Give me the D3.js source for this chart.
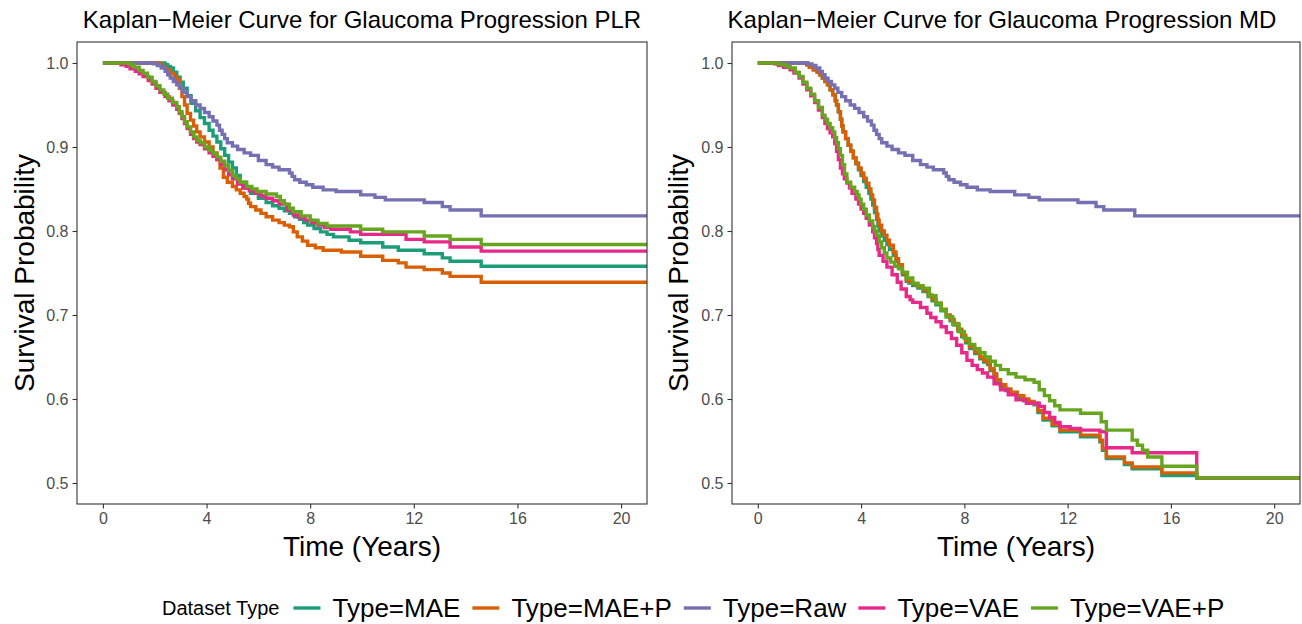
<!DOCTYPE html>
<html>
<head>
<meta charset="utf-8">
<script src="https://cdn.jsdelivr.net/npm/d3@7"></script>
<style>
  html, body { margin: 0; padding: 0; background: #fff; }
  svg { display: block; font-family: "Liberation Sans", Arial, Helvetica, sans-serif; }
</style>
</head>
<body>
<svg id="chart" width="1302" height="624"></svg>
<script>
// ---------------- DATA ----------------
const seriesNames = ["Type=MAE", "Type=MAE+P", "Type=Raw", "Type=VAE", "Type=VAE+P"];
const seriesColors = ["#1B9E77", "#D95F02", "#7570B3", "#E7298A", "#66A61E"];
const panelTitles = ["Kaplan\u2212Meier Curve for Glaucoma Progression PLR",
                     "Kaplan\u2212Meier Curve for Glaucoma Progression MD"];
const xTicks = [0, 4, 8, 12, 16, 20];
const yTicks = [0.5, 0.6, 0.7, 0.8, 0.9, 1.0];
const xLabel = "Time (Years)";
const yLabel = "Survival Probability";
const legendTitle = "Dataset Type";

// Raw curve (same in both panels): [time, survival]
const rawCurve = [[0,1],[1.8,1],[1.95,0.999],[2.1,0.997],[2.25,0.994],[2.4,0.99],[2.5,0.986],[2.6,0.982],
  [2.72,0.978],[2.85,0.974],[2.98,0.97],[3.1,0.965],[3.25,0.96],[3.4,0.955],[3.58,0.95],[3.75,0.946],
  [3.92,0.941],[4.1,0.936],[4.25,0.931],[4.4,0.926],[4.5,0.92],[4.6,0.915],[4.7,0.91],[4.8,0.905],
  [5.0,0.901],[5.2,0.897],[5.45,0.893],[5.7,0.89],[6.0,0.884],[6.3,0.879],[6.55,0.876],[6.8,0.873],
  [7.2,0.869],[7.3,0.865],[7.4,0.861],[7.6,0.858],[7.85,0.855],[8.1,0.852],[8.5,0.849],[9.0,0.847],
  [9.95,0.843],[10.5,0.84],[10.9,0.837],[12.4,0.834],[13.1,0.829],[13.4,0.825],[14.6,0.818],[22,0.818]];

// PLR panel
const plrMAE = [[0,1],[2.1,1],[2.4,0.998],[2.5,0.996],[2.6,0.994],[2.72,0.989],[2.85,0.983],[2.98,0.977],
  [3.1,0.97],[3.25,0.961],[3.4,0.952],[3.58,0.943],[3.75,0.935],[3.92,0.928],[4.1,0.92],[4.25,0.913],
  [4.4,0.906],[4.55,0.898],[4.7,0.89],[4.85,0.882],[5.0,0.875],[5.15,0.866],[5.3,0.858],[5.5,0.851],
  [5.7,0.845],[6.0,0.839],[6.3,0.834],[6.55,0.83],[6.8,0.827],[7.0,0.824],[7.2,0.821],[7.4,0.817],
  [7.6,0.814],[7.75,0.81],[7.9,0.807],[8.15,0.803],[8.4,0.799],[8.65,0.796],[8.9,0.793],[9.5,0.789],
  [9.95,0.786],[10.8,0.781],[11.4,0.777],[12.4,0.773],[13.1,0.768],[13.4,0.764],[14.6,0.758],[22,0.758]];
const plrMAEP = [[0,1],[2.1,1],[2.2,0.998],[2.3,0.995],[2.45,0.992],[2.6,0.988],[2.75,0.984],[2.85,0.98],
  [2.95,0.97],[3.05,0.96],[3.15,0.95],[3.25,0.94],[3.38,0.932],[3.5,0.925],[3.62,0.918],[3.75,0.912],
  [3.92,0.906],[4.1,0.9],[4.25,0.893],[4.4,0.885],[4.52,0.875],[4.65,0.864],[4.8,0.858],[5.0,0.853],
  [5.15,0.849],[5.3,0.845],[5.45,0.841],[5.55,0.838],[5.62,0.833],[5.7,0.829],[5.9,0.825],[6.1,0.821],
  [6.3,0.817],[6.55,0.813],[6.8,0.81],[7.0,0.807],[7.2,0.805],[7.35,0.799],[7.5,0.793],[7.7,0.788],
  [7.9,0.783],[8.2,0.78],[8.5,0.777],[9.2,0.775],[9.95,0.77],[10.8,0.765],[11.4,0.762],[11.7,0.757],
  [12.4,0.754],[13.1,0.75],[13.4,0.746],[14.6,0.739],[22,0.739]];
const plrVAE = [[0,1],[0.55,1],[0.7,0.998],[0.9,0.996],[1.05,0.993],[1.25,0.99],[1.4,0.987],[1.55,0.984],
  [1.75,0.979],[1.9,0.975],[2.05,0.97],[2.2,0.965],[2.4,0.96],[2.55,0.955],[2.7,0.95],[2.85,0.945],
  [2.95,0.94],[3.05,0.934],[3.15,0.928],[3.25,0.922],[3.38,0.915],[3.5,0.91],[3.62,0.906],[3.75,0.903],
  [3.92,0.898],[4.1,0.893],[4.25,0.889],[4.4,0.885],[4.55,0.879],[4.7,0.873],[4.85,0.867],[5.0,0.862],
  [5.2,0.856],[5.4,0.851],[5.65,0.848],[5.9,0.845],[6.1,0.842],[6.3,0.839],[6.55,0.836],[6.8,0.832],
  [7.1,0.825],[7.35,0.819],[7.55,0.816],[7.8,0.813],[8.05,0.81],[8.3,0.807],[8.55,0.804],[8.8,0.802],
  [9.55,0.799],[9.95,0.796],[11.7,0.79],[12.4,0.787],[13.4,0.781],[14.6,0.776],[22,0.776]];
const plrVAEP = [[0,1],[0.9,1],[1.05,0.998],[1.2,0.995],[1.4,0.991],[1.55,0.988],[1.72,0.983],[1.9,0.978],
  [2.05,0.973],[2.2,0.968],[2.35,0.963],[2.5,0.958],[2.68,0.953],[2.85,0.948],[2.95,0.942],[3.05,0.936],
  [3.15,0.93],[3.25,0.924],[3.38,0.918],[3.5,0.912],[3.62,0.908],[3.75,0.905],[3.92,0.9],[4.1,0.896],
  [4.25,0.892],[4.4,0.888],[4.55,0.883],[4.7,0.878],[4.85,0.872],[5.0,0.866],[5.15,0.862],[5.3,0.858],
  [5.55,0.853],[5.75,0.85],[5.95,0.847],[6.3,0.844],[6.7,0.841],[6.85,0.836],[7.0,0.832],[7.2,0.827],
  [7.35,0.823],[7.65,0.818],[8.0,0.813],[8.3,0.809],[8.65,0.806],[9.95,0.802],[10.8,0.799],[12.4,0.794],
  [13.4,0.79],[14.6,0.784],[22,0.784]];

// MD panel
const mdMAE = [[0,1],[1.75,1],[1.9,0.998],[2.0,0.995],[2.15,0.992],[2.3,0.989],[2.4,0.986],[2.5,0.982],
  [2.6,0.978],[2.7,0.974],[2.8,0.968],[2.9,0.962],[3.0,0.955],[3.05,0.95],[3.12,0.942],[3.2,0.933],
  [3.25,0.925],[3.3,0.918],[3.4,0.91],[3.5,0.902],[3.6,0.895],[3.7,0.887],[3.8,0.88],[3.9,0.873],
  [4.0,0.866],[4.1,0.859],[4.2,0.852],[4.3,0.845],[4.38,0.838],[4.45,0.831],[4.52,0.822],[4.6,0.814],
  [4.65,0.806],[4.7,0.8],[4.8,0.794],[4.9,0.789],[5.0,0.784],[5.1,0.778],[5.25,0.771],[5.35,0.764],
  [5.45,0.757],[5.6,0.748],[5.75,0.74],[5.85,0.738],[6.0,0.735],[6.2,0.732],[6.4,0.728],[6.6,0.722],
  [6.75,0.717],[6.9,0.712],[7.1,0.705],[7.3,0.698],[7.45,0.693],[7.6,0.688],[7.75,0.681],[7.9,0.674],
  [8.05,0.667],[8.2,0.66],[8.4,0.654],[8.6,0.648],[8.75,0.644],[8.9,0.641],[9.0,0.634],[9.15,0.628],
  [9.25,0.621],[9.4,0.615],[9.6,0.61],[9.8,0.606],[10.05,0.602],[10.3,0.598],[10.5,0.595],[10.7,0.593],
  [10.85,0.584],[11.05,0.575],[11.4,0.568],[11.7,0.561],[12.5,0.555],[13.25,0.549],[13.35,0.539],
  [13.5,0.529],[14.2,0.522],[14.5,0.517],[15.65,0.509],[17.0,0.506],[22,0.506]];
const mdMAEP = [[0,1],[1.75,1],[1.9,0.998],[2.0,0.995],[2.15,0.992],[2.3,0.989],[2.4,0.986],[2.5,0.982],
  [2.6,0.978],[2.7,0.974],[2.8,0.968],[2.9,0.962],[3.0,0.955],[3.05,0.95],[3.12,0.942],[3.2,0.933],
  [3.25,0.925],[3.3,0.918],[3.4,0.91],[3.5,0.902],[3.6,0.895],[3.7,0.887],[3.8,0.881],[3.9,0.875],
  [4.0,0.869],[4.1,0.863],[4.2,0.857],[4.3,0.85],[4.38,0.843],[4.45,0.837],[4.52,0.828],[4.6,0.82],
  [4.65,0.813],[4.7,0.807],[4.8,0.8],[4.9,0.795],[5.0,0.789],[5.1,0.783],[5.25,0.775],[5.35,0.767],
  [5.45,0.76],[5.6,0.75],[5.75,0.742],[5.85,0.74],[6.0,0.737],[6.2,0.734],[6.4,0.73],[6.6,0.724],
  [6.75,0.719],[6.9,0.714],[7.1,0.707],[7.3,0.7],[7.45,0.695],[7.6,0.69],[7.75,0.683],[7.9,0.676],
  [8.05,0.669],[8.2,0.662],[8.4,0.656],[8.6,0.65],[8.75,0.646],[8.9,0.643],[9.0,0.636],[9.15,0.63],
  [9.25,0.623],[9.4,0.617],[9.6,0.612],[9.8,0.608],[10.05,0.604],[10.3,0.6],[10.5,0.597],[10.7,0.595],
  [10.85,0.586],[11.05,0.577],[11.4,0.57],[11.7,0.563],[12.5,0.557],[13.25,0.551],[13.35,0.541],
  [13.5,0.531],[14.2,0.524],[14.5,0.519],[15.65,0.512],[17.0,0.506],[22,0.506]];
const mdVAE = [[0,1],[0.5,1],[0.65,0.999],[0.8,0.997],[1.0,0.995],[1.25,0.992],[1.4,0.988],[1.6,0.982],
  [1.75,0.975],[1.9,0.968],[2.05,0.961],[2.2,0.953],[2.35,0.944],[2.5,0.935],[2.6,0.928],[2.7,0.922],
  [2.8,0.917],[2.9,0.912],[2.98,0.904],[3.05,0.895],[3.12,0.885],[3.2,0.875],[3.28,0.868],[3.35,0.862],
  [3.45,0.857],[3.55,0.851],[3.65,0.845],[3.8,0.838],[3.9,0.832],[4.0,0.826],[4.1,0.821],[4.2,0.815],
  [4.32,0.807],[4.45,0.799],[4.52,0.792],[4.6,0.785],[4.65,0.778],[4.7,0.771],[4.85,0.764],[5.0,0.757],
  [5.2,0.748],[5.4,0.739],[5.55,0.731],[5.75,0.722],[5.9,0.718],[6.0,0.715],[6.3,0.709],[6.55,0.702],
  [6.7,0.697],[6.9,0.692],[7.1,0.686],[7.3,0.679],[7.5,0.672],[7.7,0.664],[7.9,0.655],[8.1,0.646],
  [8.3,0.64],[8.5,0.635],[8.7,0.631],[8.9,0.626],[9.15,0.618],[9.4,0.611],[9.7,0.605],[10.0,0.599],
  [10.4,0.595],[10.9,0.591],[11.1,0.584],[11.3,0.578],[11.5,0.572],[11.7,0.567],[12.1,0.565],[12.5,0.563],
  [13.25,0.561],[13.5,0.542],[14.5,0.536],[17.0,0.506],[22,0.506]];
const mdVAEP = [[0,1],[0.6,1],[0.75,0.999],[0.9,0.998],[1.1,0.996],[1.25,0.994],[1.45,0.989],[1.6,0.984],
  [1.75,0.977],[1.9,0.97],[2.05,0.963],[2.2,0.955],[2.35,0.947],[2.5,0.938],[2.6,0.933],[2.7,0.928],
  [2.8,0.923],[2.9,0.918],[2.98,0.911],[3.05,0.905],[3.12,0.898],[3.2,0.89],[3.28,0.879],[3.36,0.868],
  [3.45,0.858],[3.6,0.852],[3.75,0.847],[3.85,0.843],[3.92,0.838],[4.0,0.832],[4.1,0.826],[4.2,0.819],
  [4.32,0.812],[4.45,0.805],[4.52,0.8],[4.6,0.795],[4.7,0.787],[4.8,0.78],[4.9,0.774],[5.0,0.768],
  [5.15,0.763],[5.3,0.758],[5.45,0.755],[5.6,0.751],[5.8,0.744],[6.0,0.738],[6.2,0.735],[6.4,0.732],
  [6.65,0.723],[6.9,0.714],[7.1,0.706],[7.3,0.698],[7.55,0.689],[7.8,0.68],[8.0,0.672],[8.2,0.665],
  [8.4,0.66],[8.6,0.655],[8.8,0.65],[9.0,0.645],[9.2,0.64],[9.4,0.635],[9.7,0.63],[10.0,0.626],
  [10.35,0.623],[10.7,0.62],[10.9,0.611],[11.1,0.604],[11.3,0.598],[11.5,0.592],[11.7,0.587],[12.5,0.583],
  [13.3,0.573],[13.5,0.563],[14.5,0.551],[14.7,0.545],[14.9,0.539],[15.1,0.531],[15.65,0.52],[17.0,0.506],
  [22,0.506]];

const panelSeries = [
  [plrMAE, plrMAEP, rawCurve, plrVAE, plrVAEP],
  [mdMAE, mdMAEP, rawCurve, mdVAE, mdVAEP]
];

// ---------------- LAYOUT ----------------
const svg = d3.select("#chart");
const panels = [
  {left: 77, right: 647, top: 42, bottom: 504, titleX: 362, yLabX: 34},
  {left: 732, right: 1300, top: 42, bottom: 504, titleX: 1002, yLabX: 688}
];
const lineW = 3.4;

panels.forEach((p, pi) => {
  const x = d3.scaleLinear().domain([-1, 21]).range([p.left, p.right]);
  const y = d3.scaleLinear().domain([0.475, 1.025]).range([p.bottom, p.top]);
  const g = svg.append("g");
  const clipId = "clip" + pi;
  svg.append("clipPath").attr("id", clipId).append("rect")
    .attr("x", p.left).attr("y", p.top).attr("width", p.right - p.left).attr("height", p.bottom - p.top);

  const line = d3.line().x(d => x(d[0])).y(d => y(d[1])).curve(d3.curveStepAfter);
  const lg = g.append("g").attr("clip-path", `url(#${clipId})`);
  panelSeries[pi].forEach((data, si) => {
    lg.append("path").datum(data).attr("d", line)
      .attr("fill", "none").attr("stroke", seriesColors[si])
      .attr("stroke-width", lineW).attr("stroke-linejoin", "miter").attr("stroke-linecap", "butt");
  });

  // panel border
  g.append("rect").attr("x", p.left).attr("y", p.top)
    .attr("width", p.right - p.left).attr("height", p.bottom - p.top)
    .attr("fill", "none").attr("stroke", "#333333").attr("stroke-width", 1.1);

  // axes
  const xAxis = d3.axisBottom(x).tickValues(xTicks).tickSize(4.5).tickPadding(4).tickFormat(d3.format("d"));
  const yAxis = d3.axisLeft(y).tickValues(yTicks).tickSize(4.5).tickPadding(4).tickFormat(d3.format(".1f"));
  const gx = g.append("g").attr("transform", `translate(0,${p.bottom})`).call(xAxis);
  const gy = g.append("g").attr("transform", `translate(${p.left},0)`).call(yAxis);
  [gx, gy].forEach(a => {
    a.select(".domain").remove();
    a.selectAll(".tick line").attr("stroke", "#333333").attr("stroke-width", 1.1);
    a.selectAll(".tick text").attr("fill", "#4D4D4D").style("font-size", "16px")
      .style("font-family", "'Liberation Sans', Arial, sans-serif");
  });

  // title
  g.append("text").attr("x", p.titleX).attr("y", 28).attr("text-anchor", "middle")
    .style("font-size", "24px").attr("fill", "#000").text(panelTitles[pi]);
  // x label
  g.append("text").attr("x", (p.left + p.right) / 2).attr("y", 556).attr("text-anchor", "middle")
    .style("font-size", "28px").attr("fill", "#000").text(xLabel);
  // y label
  g.append("text").attr("transform", `translate(${p.yLabX},${(p.top + p.bottom) / 2}) rotate(-90)`)
    .attr("text-anchor", "middle").style("font-size", "28px").attr("fill", "#000").text(yLabel);
});

// ---------------- LEGEND ----------------
const legY = 608;
const leg = svg.append("g");
let cx = 162;
const lt = leg.append("text").attr("x", cx).attr("y", legY).attr("dy", "0.35em")
  .style("font-size", "20px").attr("fill", "#000").text(legendTitle);
cx += lt.node().getComputedTextLength() + 14;
seriesNames.forEach((name, i) => {
  leg.append("line").attr("x1", cx).attr("x2", cx + 27).attr("y1", legY).attr("y2", legY)
    .attr("stroke", seriesColors[i]).attr("stroke-width", lineW);
  cx += 27 + 12;
  const t = leg.append("text").attr("x", cx).attr("y", legY).attr("dy", "0.35em")
    .style("font-size", "26px").attr("fill", "#000").text(name);
  cx += t.node().getComputedTextLength() + 12;
});
</script>
</body>
</html>
